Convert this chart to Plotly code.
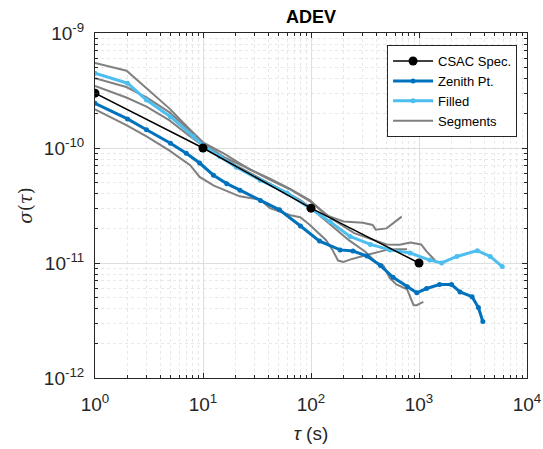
import plotly.graph_objects as go

# ---- data ----
csac_tau = [1, 10, 100, 1000]
csac_sig = [3e-10, 1e-10, 3e-11, 1e-11]

zen_tau = [1, 2, 3, 5, 7, 9.3, 12.5, 16.6, 22, 34, 51, 80, 120, 186, 245, 330, 440,
           575, 780, 955, 1175, 1550, 2000, 2400, 3100, 3550, 3900]
zen_sig = [2.45e-10, 1.79e-10, 1.44e-10, 1.10e-10, 9.0e-11, 7.4e-11, 5.8e-11, 4.9e-11,
           4.3e-11, 3.5e-11, 2.9e-11, 2.1e-11, 1.55e-11, 1.3e-11, 1.27e-11, 1.15e-11,
           9.5e-12, 7.5e-12, 6.2e-12, 5.5e-12, 6.0e-12, 6.5e-12, 6.5e-12, 5.6e-12,
           5.1e-12, 4.1e-12, 3.1e-12]

fil_tau = [1, 2, 3, 5, 8.1, 10, 14.4, 20.4, 34, 60, 98, 150, 230, 355, 540, 830,
           1260, 1620, 2240, 3470, 4570, 5900]
fil_sig = [4.47e-10, 3.66e-10, 2.61e-10, 1.87e-10, 1.26e-10, 1.06e-10, 8.4e-11,
           6.8e-11, 5.25e-11, 4.07e-11, 3.0e-11, 2.29e-11, 1.70e-11, 1.45e-11,
           1.30e-11, 1.22e-11, 1.06e-11, 1.0e-11, 1.14e-11, 1.28e-11, 1.14e-11, 9.3e-12]

seg1_tau = [1, 1.96, 3.0, 4.9, 7.6, 10, 15.8, 27.2, 41.7, 64, 98, 138, 200, 302, 372,
            398, 501, 692]
seg1_sig = [5.5e-10, 4.7e-10, 3.3e-10, 2.2e-10, 1.44e-10, 1.12e-10, 8.9e-11, 6.5e-11,
            5.4e-11, 4.4e-11, 3.5e-11, 2.6e-11, 2.3e-11, 2.24e-11, 2.14e-11, 1.95e-11,
            2.0e-11, 2.53e-11]

seg2_tau = [1, 1.95, 3.0, 4.9, 7.6, 10, 15.8, 25, 40, 63, 100, 158, 251, 398, 501,
            661, 832, 1047, 1175, 1349, 1445]
seg2_sig = [4.04e-10, 3.39e-10, 2.75e-10, 2.04e-10, 1.41e-10, 1.10e-10, 8.3e-11,
            6.8e-11, 5.4e-11, 4.4e-11, 3.4e-11, 2.4e-11, 1.82e-11, 1.58e-11, 1.45e-11,
            1.44e-11, 1.51e-11, 1.45e-11, 1.26e-11, 1.10e-11, 1.02e-11]

seg3_tau = [1, 1.95, 3.0, 4.9, 7.6, 9.3, 12.6, 15.8, 21.9, 33.9, 41.7, 64.6, 79.4,
            97.7, 138, 158, 178, 200, 229, 302, 398, 501, 617, 776]
seg3_sig = [2.17e-10, 1.58e-10, 1.26e-10, 9.5e-11, 7.1e-11, 5.6e-11, 4.7e-11, 4.3e-11,
            3.8e-11, 3.55e-11, 3.0e-11, 2.6e-11, 2.5e-11, 2.14e-11, 1.58e-11, 1.30e-11,
            1.05e-11, 1.02e-11, 1.07e-11, 1.15e-11, 1.23e-11, 1.30e-11, 1.32e-11, 1.32e-11]

seg4_tau = [1, 1.95, 3.0, 4.9, 7.6, 10, 20, 40, 79, 100, 158, 224, 316, 398, 468, 537,
            617, 776, 891, 955, 1096]
seg4_sig = [3.47e-10, 2.75e-10, 2.29e-10, 1.74e-10, 1.26e-10, 1.05e-10, 7.1e-11,
            5.0e-11, 3.55e-11, 3.0e-11, 2.1e-11, 1.58e-11, 1.26e-11, 1.02e-11, 9.5e-12,
            7.4e-12, 6.5e-12, 5.9e-12, 4.3e-12, 4.3e-12, 4.6e-12]

x_tickvals = [1, 10, 100, 1000, 10000]
x_ticktext = ["10<sup>0</sup>", "10<sup>1</sup>", "10<sup>2</sup>", "10<sup>3</sup>", "10<sup>4</sup>"]
y_tickvals = [1e-12, 1e-11, 1e-10, 1e-9]
y_ticktext = ["10<sup>-12</sup>", "10<sup>-11</sup>", "10<sup>-10</sup>", "10<sup>-9</sup>"]

# ---- figure ----
GRAY = "#808080"
ZEN = "#0072BD"
FIL = "#4DBEEE"
FONT = "Liberation Sans, Arial, Helvetica"

fig = go.Figure()

segs = [(seg1_tau, seg1_sig), (seg2_tau, seg2_sig), (seg3_tau, seg3_sig), (seg4_tau, seg4_sig)]
for i, (t, s) in enumerate(segs):
    fig.add_trace(go.Scatter(x=t, y=s, mode="lines", name="Segments",
                             line=dict(color=GRAY, width=2),
                             showlegend=(i == 0), legendrank=4))

fig.add_trace(go.Scatter(x=zen_tau, y=zen_sig, mode="lines+markers", name="Zenith Pt.",
                         line=dict(color=ZEN, width=3), marker=dict(size=5, color=ZEN),
                         legendrank=2))
fig.add_trace(go.Scatter(x=fil_tau, y=fil_sig, mode="lines+markers", name="Filled",
                         line=dict(color=FIL, width=3), marker=dict(size=5, color=FIL),
                         legendrank=3))
fig.add_trace(go.Scatter(x=csac_tau, y=csac_sig, mode="lines+markers", name="CSAC Spec.",
                         line=dict(color="black", width=1.5),
                         marker=dict(size=9, color="black"), legendrank=1))

minor_x = [m * 10 ** k for k in range(0, 4) for m in range(2, 10)]
minor_y = [m * 10.0 ** k for k in range(-12, -9) for m in range(2, 10)]

axis_common = dict(
    type="log", showline=True, linecolor="#262626", linewidth=1, mirror="ticks",
    ticks="inside", ticklen=5, tickcolor="#262626", automargin=False,
    showgrid=True, gridcolor="#dedede", gridwidth=1, zeroline=False,
    ticklabeloverflow="allow",
    tickfont=dict(family=FONT, size=19, color="#262626"),
)

fig.update_xaxes(**axis_common, range=[0, 4], tickmode="array",
                 tickvals=x_tickvals, ticktext=x_ticktext, ticklabelstandoff=9,
                 minor=dict(tickmode="array", tickvals=minor_x, ticks="inside", ticklen=3,
                            tickcolor="#262626", showgrid=True, gridcolor="#e8e8e8",
                            griddash="dot", gridwidth=1),
                 title=dict(text="<i>τ</i> (s)", font=dict(family=FONT,
                                                          size=19, color="#262626"),
                            standoff=12))
fig.update_yaxes(**axis_common, range=[-12, -9], tickmode="array",
                 tickvals=y_tickvals, ticktext=y_ticktext, ticklabelstandoff=6,
                 minor=dict(tickmode="array", tickvals=minor_y, ticks="inside", ticklen=3,
                            tickcolor="#262626", showgrid=True, gridcolor="#e8e8e8",
                            griddash="dot", gridwidth=1),
                 title=dict(text="<i>σ</i>(<i>τ</i>)", font=dict(family="DejaVu Serif",
                                                                size=18, color="#262626"),
                            standoff=6))

fig.update_layout(
    width=543, height=449,
    margin=dict(l=95, r=16, t=33, b=71, autoexpand=False),
    paper_bgcolor="white", plot_bgcolor="white",
    title=dict(text="<b>ADEV</b>", x=(95 + 527) / 2 / 543, xref="container",
               xanchor="center", y=1 - 17 / 449, yref="container", yanchor="middle",
               font=dict(family=FONT, size=18, color="black")),
    legend=dict(x=0.977, y=0.965, xanchor="right", yanchor="top",
                bgcolor="white", bordercolor="#262626", borderwidth=1,
                font=dict(family=FONT, size=13, color="black"),
                tracegroupgap=0, itemwidth=40),
    font=dict(family=FONT),
    showlegend=True,
)

# remove the browser's default body margin so the 543x449 figure fills the window exactly
fig.write_html("out.html", config={"displayModeBar": False},
               post_script="document.body.style.margin='0';document.body.style.overflow='hidden';")
